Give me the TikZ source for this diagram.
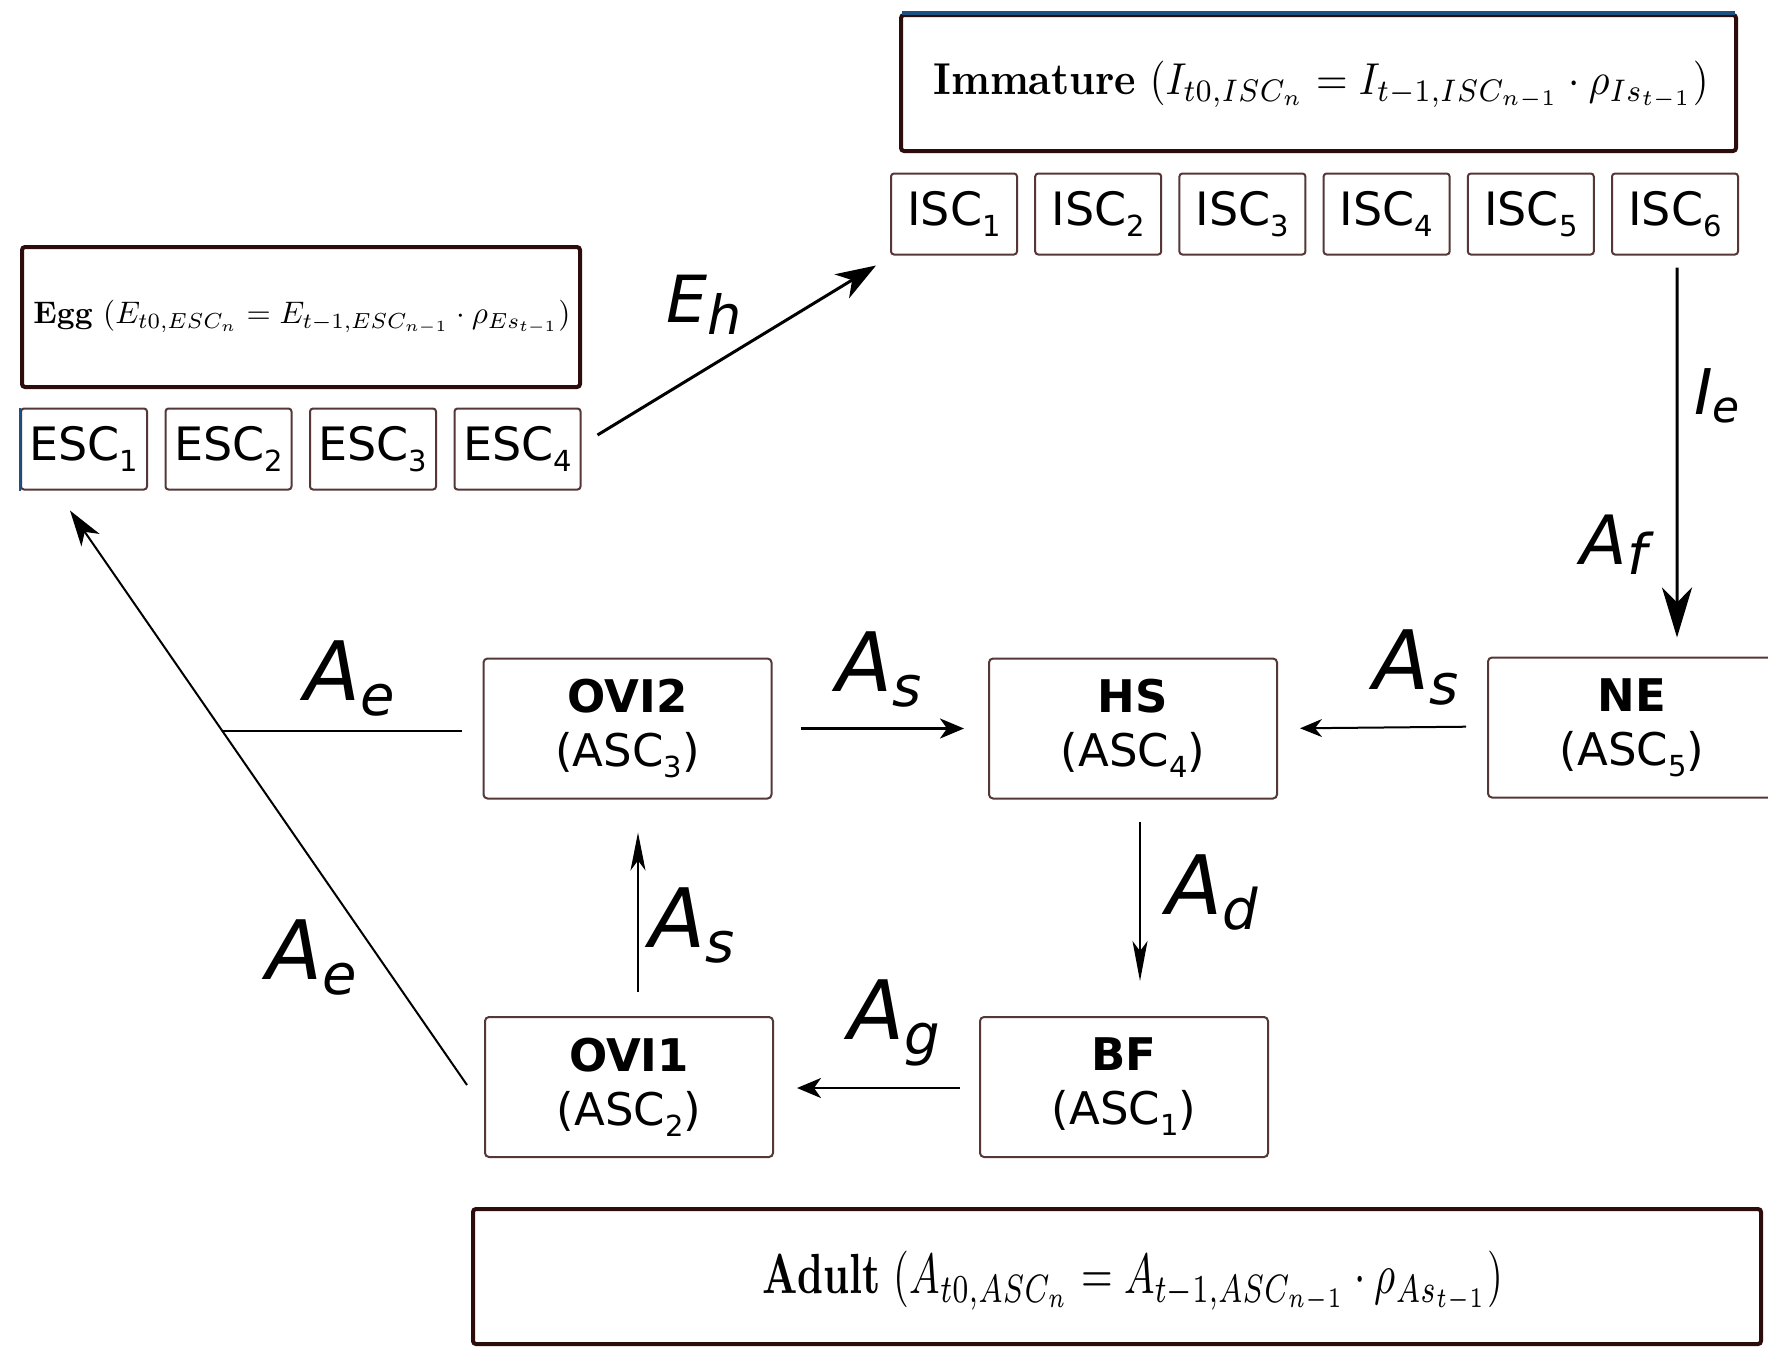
\documentclass[tikz,border=0pt]{standalone}
\usepackage{fontspec}
\usepackage{graphicx}
\usetikzlibrary{arrows.meta,calc}
\newfontfamily\dv{DejaVu Sans}
\definecolor{boxc}{RGB}{85,55,55}
\definecolor{bigc}{RGB}{45,12,12}
\definecolor{edgeblue}{RGB}{30,80,130}
\newcommand\sbx[1]{\raisebox{-11pt}{\fontsize{29pt}{29pt}\selectfont #1}}
\newcommand\lbl[5]{{\dv\itshape\fontsize{#3pt}{#3pt}\selectfont #1\raisebox{-#5pt}{\fontsize{#4pt}{#4pt}\selectfont #2}}}
\begin{document}
\begin{tikzpicture}[x=1pt,y=-1pt,
  sbox/.style={draw=boxc,line width=2pt,rounded corners=3pt,inner sep=0pt,
    minimum width=126pt,minimum height=81pt,font=\dv\fontsize{46pt}{46pt}\selectfont},
  abox/.style={draw=boxc,line width=2pt,rounded corners=4pt,inner sep=0pt,
    minimum width=288pt,minimum height=140pt,align=center,
    font=\dv\fontsize{45pt}{54pt}\selectfont},
  bigbox/.style={draw=bigc,line width=4pt,rounded corners=3pt,inner sep=0pt},
  ftext/.style={inner sep=0pt,anchor=center},
  lab/.style={inner sep=0pt,anchor=center},
  ln/.style={line width=2pt}
]
\useasboundingbox (0,0) rectangle (1768,1347);
\clip (0,0) rectangle (1768,1347);
\fill[white] (0,0) rectangle (1768,1347);

% big formula boxes
\node[bigbox,minimum width=835pt,minimum height=136pt] (imm) at (1318.5,83) {};
\node[ftext] (immt) at (1321,85)
  {\resizebox{775pt}{!}{\scalebox{1}[1.1]{\textbf{Immature} $(I_{t0,ISC_n}=I_{t-1,ISC_{n-1}}\cdot\rho_{Is_{t-1}})$}}};
\draw[edgeblue,line width=4pt] ([xshift=3pt]imm.north west) -- ([xshift=-3pt]imm.north east);
\node[bigbox,minimum width=558pt,minimum height=140pt] (egg) at (301,317) {};
\node[ftext] (eggt) at (302,317)
  {\resizebox{537pt}{!}{\textbf{Egg} $(E_{t0,ESC_n}=E_{t-1,ESC_{n-1}}\cdot\rho_{Es_{t-1}})$}};
\node[bigbox,minimum width=1288pt,minimum height=135pt] (adult) at (1117,1276.5) {};
\node[ftext] (adultt) at (1133,1282)
  {\resizebox{740pt}{!}{\scalebox{1}[1.39]{\textbf{Adult} $(A_{t0,ASC_n}=A_{t-1,ASC_{n-1}}\cdot\rho_{As_{t-1}})$}}};

% ISC boxes
\foreach \i in {1,...,6}{
  \node[sbox] (isc\i) at ({954+144.2*(\i-1)},214) {ISC\sbx{\i}};
}
% ESC boxes
\foreach \i in {1,...,4}{
  \node[sbox] (esc\i) at ({84+144.5*(\i-1)},449) {ESC\sbx{\i}};
}
\draw[edgeblue,line width=2pt] (esc1.south west) -- (esc1.north west);

% adult stage boxes
\node[abox] (ne)   at (1632,727.5) {\textbf{NE}\\(ASC\sbx{5})};
\node[abox] (hs)   at (1133,728.5) {\textbf{HS}\\(ASC\sbx{4})};
\node[abox] (ovi2) at (627.5,728.5) {\textbf{OVI2}\\(ASC\sbx{3})};
\node[abox] (ovi1) at (629,1087) {\textbf{OVI1}\\(ASC\sbx{2})};
\node[abox] (bf)   at (1124,1087) {\textbf{BF}\\(ASC\sbx{1})};

% connectors
\draw[line width=3pt,-{Stealth[length=40pt,width=28pt,inset=12pt]}]
  ([xshift=16pt,yshift=14pt]esc4.east) -- ([xshift=-14pt,yshift=-10pt]isc1.south west);
\draw[line width=3pt,-{Stealth[length=50pt,width=30pt,inset=15pt]}]
  ([xshift=2pt,yshift=-12pt]isc6.south) -- ([xshift=45pt,yshift=19pt]ne.north);
\draw[line width=3pt,-{Stealth[length=24pt,width=20pt,inset=7pt]},shorten <=28pt,shorten >=24pt]
  (ovi2.east) -- (hs.west);
\draw[ln,-{Stealth[length=22pt,width=18pt,inset=7pt]},shorten <=21pt,shorten >=22pt]
  ([yshift=1pt]ne.west) -- (hs.east);
\draw[ln,-{Stealth[length=40pt,width=15pt,inset=10pt]}]
  ([xshift=7pt,yshift=-22pt]hs.south) -- ([xshift=16pt,yshift=35pt]bf.north);
\draw[line width=2.5pt,-{Stealth[length=24pt,width=20pt,inset=7pt]},shorten <=19pt,shorten >=23pt]
  ([yshift=-1pt]bf.west) -- ([yshift=-1pt]ovi1.east);
\draw[ln,-{Stealth[length=38pt,width=15pt,inset=10pt]}]
  ([xshift=9pt,yshift=24pt]ovi1.north) -- ([xshift=10.5pt,yshift=-33pt]ovi2.south);
\draw[ln,-{Stealth[length=36pt,width=22pt,inset=10pt]}]
  ([xshift=-17pt,yshift=2pt]ovi1.west) -- ([xshift=-14pt,yshift=-20pt]esc1.south);
\coordinate (join) at (222.6,731);
\draw[ln] ([xshift=-21pt,yshift=-2.5pt]ovi2.west) -- (join);

% labels
\node[lab] (lEh) at (704,305) {\lbl{E}{h}{65}{54}{12}};
\node[lab] (lIe) at (1717,396) {\lbl{I}{e}{63}{44}{8}};
\node[lab] (lAf) at (1614,545) {\lbl{A}{f}{68}{56}{10}};
\node[lab] (lAs1) at (1416,667) {\lbl{A}{s}{82}{56}{15}};
\node[lab] (lAs2) at (879,669) {\lbl{A}{s}{82}{56}{15}};
\node[lab] (lAe1) at (350,678) {\lbl{A}{e}{82}{56}{15}};
\node[lab] (lAd) at (1212,892) {\lbl{A}{d}{82}{56}{15}};
\node[lab] (lAs3) at (692,925) {\lbl{A}{s}{82}{56}{15}};
\node[lab] (lAe2) at (312,957) {\lbl{A}{e}{82}{56}{15}};
\node[lab] (lAg) at (894,1023) {\lbl{A}{g}{82}{56}{15}};
\end{tikzpicture}
\end{document}
